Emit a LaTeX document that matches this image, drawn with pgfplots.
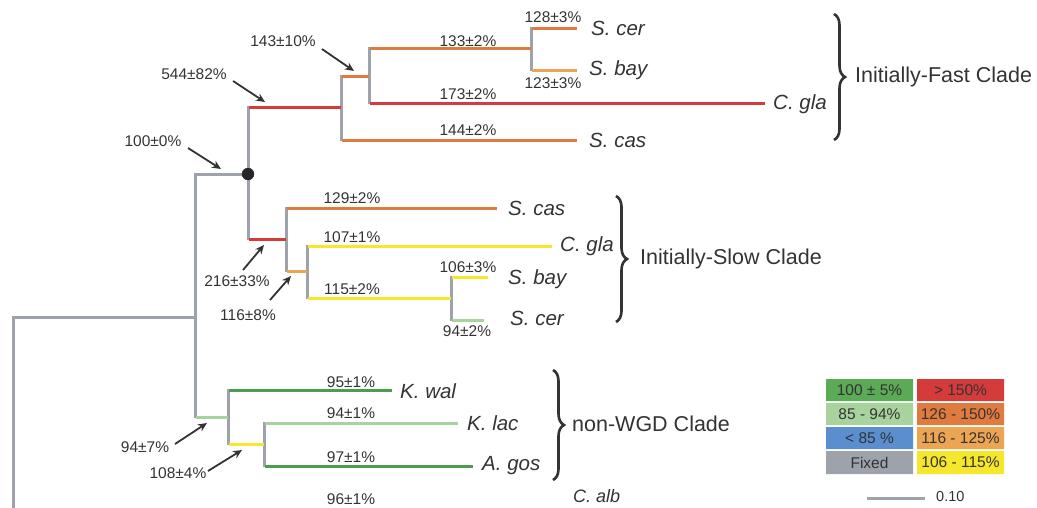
\documentclass[border=0pt]{standalone}
\usepackage{pgfplots}
\pgfplotsset{compat=1.18}
\usepackage{fontspec}
\setmainfont{Liberation Sans}
\usetikzlibrary{arrows.meta,decorations.pathreplacing}
\definecolor{cgreen}{HTML}{4A9E4E}
\definecolor{lgreen}{HTML}{A9D39D}
\definecolor{cblue}{HTML}{5B8ECF}
\definecolor{cgray}{HTML}{9EA2AA}
\definecolor{cred}{HTML}{D63B3B}
\definecolor{corange}{HTML}{DF7B3E}
\definecolor{lorange}{HTML}{EBA553}
\definecolor{cyellow}{HTML}{F6E62C}
\definecolor{bgreen}{HTML}{5BAA56}
\definecolor{txt}{HTML}{333333}
\tikzset{
  br/.style={line width=3pt},
  num/.style={font=\fontsize{15.5}{16}\selectfont, text=txt, inner sep=0pt, anchor=center},
  sp/.style={font=\fontsize{20.5}{21}\selectfont\itshape, text=txt, inner sep=0pt, anchor=west},
  clade/.style={font=\fontsize{21.5}{22}\selectfont, text=txt, inner sep=0pt, anchor=west},
  leg/.style={font=\fontsize{15.5}{16}\selectfont, text=txt, inner sep=0pt, anchor=center},
  arr/.style={line width=1.8pt, txt, -{Stealth[length=9pt,width=8pt]}},
  brace/.style={line width=2.6pt, txt, decorate, decoration={brace, amplitude=11pt}},
}
\begin{document}
\begin{tikzpicture}
\begin{axis}[width=1037pt, height=507pt, scale only axis,
  xmin=0, xmax=1037, ymin=0, ymax=507, y dir=reverse,
  hide axis, clip=false]
% ---------- gray (fixed) branches ----------
\addplot[br, cgray] coordinates {(13,317) (195,317)};
\addplot[br, cgray] coordinates {(195,174) (248,174)};
\addplot[br, cgray] coordinates {(13,316) (13,512)};
\addplot[br, cgray] coordinates {(195,173) (195,418)};
\addplot[br, cgray] coordinates {(248,106) (248,240)};
\addplot[br, cgray] coordinates {(341,75) (341,141)};
\addplot[br, cgray] coordinates {(369,47) (369,104)};
\addplot[br, cgray] coordinates {(531,27) (531,71)};
\addplot[br, cgray] coordinates {(286,207) (286,272)};
\addplot[br, cgray] coordinates {(307,245) (307,299)};
\addplot[br, cgray] coordinates {(451,276) (451,321)};
\addplot[br, cgray] coordinates {(228,389) (228,445)};
\addplot[br, cgray] coordinates {(264,422) (264,467)};
% ---------- > 150% ----------
\addplot[br, cred] coordinates {(249,107) (341,107)};
\addplot[br, cred] coordinates {(370,103) (765,103)};
\addplot[br, cred] coordinates {(249,239) (286,239)};
% ---------- 126 - 150% ----------
\addplot[br, corange] coordinates {(342,76) (369,76)};
\addplot[br, corange] coordinates {(370,48) (531,48)};
\addplot[br, corange] coordinates {(532,28) (577,28)};
\addplot[br, corange] coordinates {(342,140) (577,140)};
\addplot[br, corange] coordinates {(287,208) (497,208)};
% ---------- 116 - 125% ----------
\addplot[br, lorange] coordinates {(532,70) (577,70)};
\addplot[br, lorange] coordinates {(287,271) (307,271)};
% ---------- 106 - 115% ----------
\addplot[br, cyellow] coordinates {(308,246) (552,246)};
\addplot[br, cyellow] coordinates {(308,298) (451,298)};
\addplot[br, cyellow] coordinates {(452,277) (488,277)};
\addplot[br, cyellow] coordinates {(229,444) (264,444)};
% ---------- 85 - 94% ----------
\addplot[br, lgreen] coordinates {(452,320) (484,320)};
\addplot[br, lgreen] coordinates {(196,417) (228,417)};
\addplot[br, lgreen] coordinates {(265,423) (458,423)};
% ---------- 100 +- 5% ----------
\addplot[br, cgreen] coordinates {(229,390) (392,390)};
\addplot[br, cgreen] coordinates {(265,466) (473,466)};
\addplot[br, cgreen] coordinates {(13,512) (540,512)};
% root dot
\addplot[only marks, mark=*, mark size=6pt, mark options={fill=black!85, draw=black!85}] coordinates {(248,174)};
% ---------- arrows ----------
\addplot[arr] coordinates {(322,49) (354,71)};
\addplot[arr] coordinates {(233,81) (265,102)};
\addplot[arr] coordinates {(188,148) (221,169)};
\addplot[arr] coordinates {(243,270) (264,245)};
\addplot[arr] coordinates {(270,300) (291,276)};
\addplot[arr] coordinates {(175,444) (207,423)};
\addplot[arr] coordinates {(208,471) (242,450)};
% ---------- braces ----------
\addplot[brace] coordinates {(834,14) (834,140)};
\addplot[brace] coordinates {(616,196) (616,322)};
\addplot[brace] coordinates {(553,370) (553,480)};
% ---------- legend boxes ----------
\addplot[fill=bgreen, draw=none] coordinates {(826,379) (913,379) (913,401) (826,401) (826,379)};
\addplot[fill=lgreen, draw=none] coordinates {(826,403) (913,403) (913,425) (826,425) (826,403)};
\addplot[fill=cblue, draw=none] coordinates {(826,427) (913,427) (913,449) (826,449) (826,427)};
\addplot[fill=cgray, draw=none] coordinates {(826,451) (913,451) (913,474) (826,474) (826,451)};
\addplot[fill=cred, draw=none] coordinates {(917,379) (1004,379) (1004,401) (917,401) (917,379)};
\addplot[fill=corange, draw=none] coordinates {(917,403) (1004,403) (1004,425) (917,425) (917,403)};
\addplot[fill=lorange, draw=none] coordinates {(917,427) (1004,427) (1004,449) (917,449) (917,427)};
\addplot[fill=cyellow, draw=none] coordinates {(917,451) (1004,451) (1004,474) (917,474) (917,451)};
% scale bar
\addplot[br, cgray] coordinates {(867,498) (925,498)};
% ---------- texts ----------
\node[leg] at (axis cs:869.5,390) {100 ± 5\%};
\node[leg] at (axis cs:869.5,414) {85 - 94\%};
\node[leg] at (axis cs:869.5,438) {< 85 \%};
\node[leg] at (axis cs:869.5,462.5) {Fixed};
\node[leg] at (axis cs:960.5,390) {> 150\%};
\node[leg] at (axis cs:960.5,414) {126 - 150\%};
\node[leg] at (axis cs:960.5,438) {116 - 125\%};
\node[leg] at (axis cs:960.5,462.5) {106 - 115\%};
\node[leg, anchor=west, font=\fontsize{14.5}{15}\selectfont] at (axis cs:936,497) {0.10};
% number labels
\node[num] at (axis cs:553,17) {128±3\%};
\node[num] at (axis cs:553,83) {123±3\%};
\node[num] at (axis cs:468,41) {133±2\%};
\node[num] at (axis cs:468,94) {173±2\%};
\node[num] at (axis cs:468,130) {144±2\%};
\node[num] at (axis cs:283,41) {143±10\%};
\node[num] at (axis cs:194,74) {544±82\%};
\node[num] at (axis cs:153,141) {100±0\%};
\node[num] at (axis cs:352,198) {129±2\%};
\node[num] at (axis cs:352,237) {107±1\%};
\node[num] at (axis cs:352,289) {115±2\%};
\node[num] at (axis cs:468,267) {106±3\%};
\node[num] at (axis cs:467,331) {94±2\%};
\node[num] at (axis cs:237,281) {216±33\%};
\node[num] at (axis cs:248,315) {116±8\%};
\node[num] at (axis cs:351,382) {95±1\%};
\node[num] at (axis cs:351,413) {94±1\%};
\node[num] at (axis cs:351,457) {97±1\%};
\node[num] at (axis cs:351,499) {96±1\%};
\node[num] at (axis cs:145,447) {94±7\%};
\node[num] at (axis cs:178,473) {108±4\%};
% species
\node[sp] at (axis cs:591,28) {S. cer};
\node[sp] at (axis cs:589,70) {S. bay};
\node[sp] at (axis cs:773,104) {C. gla};
\node[sp] at (axis cs:589,140) {S. cas};
\node[sp] at (axis cs:508,208) {S. cas};
\node[sp] at (axis cs:560,246) {C. gla};
\node[sp] at (axis cs:508,279) {S. bay};
\node[sp] at (axis cs:510,318) {S. cer};
\node[sp] at (axis cs:400,391) {K. wal};
\node[sp] at (axis cs:467,423) {K. lac};
\node[sp] at (axis cs:482,466) {A. gos};
\node[sp, font=\fontsize{18}{19}\selectfont\itshape] at (axis cs:573,496) {C. alb};
% clades
\node[clade] at (axis cs:855,77) {Initially-Fast Clade};
\node[clade] at (axis cs:640,259) {Initially-Slow Clade};
\node[clade] at (axis cs:572,424) {non-WGD Clade};
\end{axis}
\pgfresetboundingbox
\path (current axis.south west) rectangle (current axis.north east);
\end{tikzpicture}
\end{document}
